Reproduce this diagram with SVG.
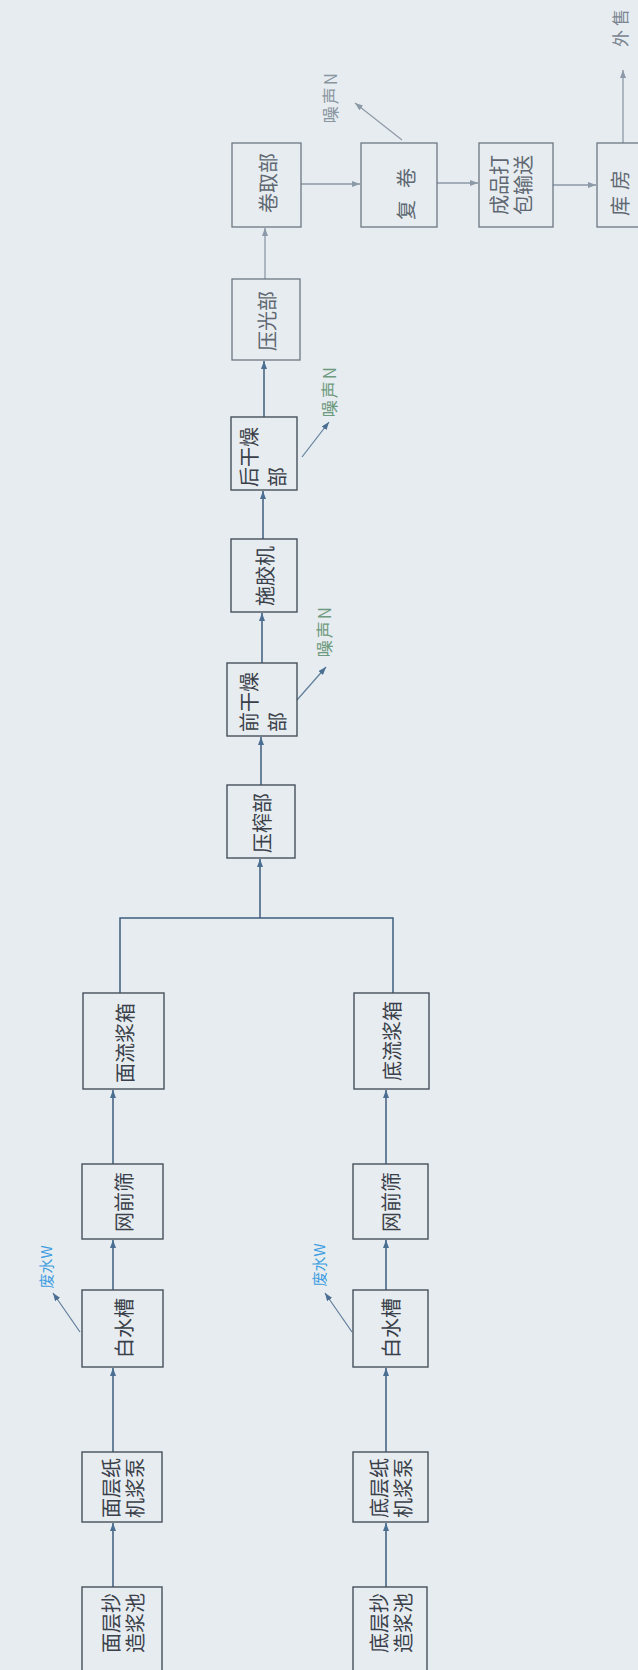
<svg xmlns="http://www.w3.org/2000/svg" width="638" height="1670" viewBox="0 0 638 1670">
  <style>
    .bg { fill: #e7ecf1; }
    .box { fill: none; stroke: #46505a; stroke-width: 1.4; }
    .box-lt { fill: none; stroke: #6c7782; stroke-width: 1.3; }
    .lbl { font-family: "Noto Sans CJK SC", "Noto Sans", sans-serif; font-size: 20px; fill: #3a4049; text-anchor: middle; dominant-baseline: central; }
    .lbl-lt { fill: #5f6872; }
    .start { text-anchor: start; }
    .noise { font-family: "Noto Sans CJK SC", "Noto Sans", sans-serif; font-size: 17px; letter-spacing: 2px; fill: #6e9a7e; text-anchor: middle; dominant-baseline: central; }
    .noise-gray { fill: #8a96a0; }
    .water { font-family: "Noto Sans CJK SC", "Noto Sans", sans-serif; font-size: 15px; fill: #3d9de0; text-anchor: middle; dominant-baseline: central; }
    .out { font-family: "Noto Sans CJK SC", "Noto Sans", sans-serif; font-size: 17px; fill: #7a8590; text-anchor: middle; dominant-baseline: central; letter-spacing: 4px; }
    .flow { fill: none; stroke: #3e5d7d; stroke-width: 1.5; }
    .flow-lt { fill: none; stroke: #8c99a6; stroke-width: 1.3; }
    .side { fill: none; stroke: #5f7d9a; stroke-width: 1.2; }
    .side-lt { fill: none; stroke: #8f9aa5; stroke-width: 1.2; }
  </style>
  <defs>
    <marker id="ah" viewBox="0 0 8 6" refX="8" refY="3" markerWidth="8" markerHeight="6" markerUnits="userSpaceOnUse" orient="auto">
      <path d="M0,0 L8,3 L0,6 z" fill="#4a6f92"/>
    </marker>
    <marker id="ah-lt" viewBox="0 0 8 6" refX="8" refY="3" markerWidth="8" markerHeight="6" markerUnits="userSpaceOnUse" orient="auto">
      <path d="M0,0 L8,3 L0,6 z" fill="#8c99a6"/>
    </marker>
  </defs>

  <rect class="bg" x="0" y="0" width="638" height="1670"/>

  <!-- connectors -->
  <g id="connectors">
    <!-- top (face) layer -->
    <path class="flow" d="M113,1587 V1523" marker-end="url(#ah)"/>
    <path class="flow" d="M113,1452 V1368" marker-end="url(#ah)"/>
    <path class="flow" d="M113,1290 V1240" marker-end="url(#ah)"/>
    <path class="flow" d="M113,1164 V1090" marker-end="url(#ah)"/>
    <!-- bottom layer -->
    <path class="flow" d="M386,1587 V1523" marker-end="url(#ah)"/>
    <path class="flow" d="M386,1452 V1368" marker-end="url(#ah)"/>
    <path class="flow" d="M386,1290 V1240" marker-end="url(#ah)"/>
    <path class="flow" d="M386,1164 V1090" marker-end="url(#ah)"/>
    <!-- merge into press section -->
    <path class="flow" d="M120,993 V918 H393 V993"/>
    <path class="flow" d="M260,918 V859" marker-end="url(#ah)"/>
    <!-- main line -->
    <path class="flow" d="M261,785 V737" marker-end="url(#ah)"/>
    <path class="flow" d="M262,663 V613" marker-end="url(#ah)"/>
    <path class="flow" d="M263,539 V491" marker-end="url(#ah)"/>
    <path class="flow" d="M264,417 V361" marker-end="url(#ah)"/>
    <path class="flow-lt" d="M265,279 V228" marker-end="url(#ah-lt)"/>
    <!-- finishing row -->
    <path class="flow-lt" d="M301,184 H360" marker-end="url(#ah-lt)"/>
    <path class="flow-lt" d="M437,183 H478" marker-end="url(#ah-lt)"/>
    <path class="flow-lt" d="M553,185 H596" marker-end="url(#ah-lt)"/>
    <path class="flow-lt" d="M623,143 V70" marker-end="url(#ah-lt)"/>
    <!-- emissions -->
    <path class="side" d="M80,1332 L53,1293" marker-end="url(#ah)"/>
    <path class="side" d="M352,1332 L325,1293" marker-end="url(#ah)"/>
    <path class="side" d="M297,700 L326,667" marker-end="url(#ah)"/>
    <path class="side" d="M302,457 L329,422" marker-end="url(#ah)"/>
    <path class="side-lt" d="M402,140 L355,103" marker-end="url(#ah-lt)"/>
  </g>

  <!-- face layer column -->
  <g id="face-pool">
    <rect class="box" x="82" y="1587" width="80" height="95"/>
    <text class="lbl" transform="translate(122,1623) rotate(-90)"><tspan x="0" y="-12">面层抄</tspan><tspan x="0" y="12">造浆池</tspan></text>
  </g>
  <g id="face-pump">
    <rect class="box" x="82" y="1452" width="80" height="70"/>
    <text class="lbl" transform="translate(122,1488) rotate(-90)"><tspan x="0" y="-12">面层纸</tspan><tspan x="0" y="12">机浆泵</tspan></text>
  </g>
  <g id="face-whitewater">
    <rect class="box" x="82" y="1290" width="81" height="77"/>
    <text class="lbl" transform="translate(123,1328) rotate(-90)">白水槽</text>
  </g>
  <g id="face-screen">
    <rect class="box" x="82" y="1164" width="81" height="75"/>
    <text class="lbl" transform="translate(123,1202) rotate(-90)">网前筛</text>
  </g>
  <g id="face-headbox">
    <rect class="box" x="83" y="993" width="81" height="96"/>
    <text class="lbl" transform="translate(124,1043) rotate(-90)">面流浆箱</text>
  </g>

  <!-- bottom layer column -->
  <g id="base-pool">
    <rect class="box" x="353" y="1587" width="74" height="95"/>
    <text class="lbl" transform="translate(390,1623) rotate(-90)"><tspan x="0" y="-12">底层抄</tspan><tspan x="0" y="12">造浆池</tspan></text>
  </g>
  <g id="base-pump">
    <rect class="box" x="353" y="1452" width="75" height="70"/>
    <text class="lbl" transform="translate(390,1488) rotate(-90)"><tspan x="0" y="-12">底层纸</tspan><tspan x="0" y="12">机浆泵</tspan></text>
  </g>
  <g id="base-whitewater">
    <rect class="box" x="353" y="1290" width="75" height="77"/>
    <text class="lbl" transform="translate(390,1328) rotate(-90)">白水槽</text>
  </g>
  <g id="base-screen">
    <rect class="box" x="353" y="1164" width="75" height="75"/>
    <text class="lbl" transform="translate(390,1202) rotate(-90)">网前筛</text>
  </g>
  <g id="base-headbox">
    <rect class="box" x="354" y="993" width="75" height="96"/>
    <text class="lbl" transform="translate(391,1041) rotate(-90)">底流浆箱</text>
  </g>

  <!-- waste water outlets -->
  <g id="face-wastewater">
    <text class="water" transform="translate(45,1267) rotate(-90)">废水W</text>
  </g>
  <g id="base-wastewater">
    <text class="water" transform="translate(318,1265) rotate(-90)">废水W</text>
  </g>

  <!-- main machine line -->
  <g id="press">
    <rect class="box" x="227" y="785" width="68" height="73"/>
    <text class="lbl" transform="translate(261,823) rotate(-90)">压榨部</text>
  </g>
  <g id="pre-dryer">
    <rect class="box" x="227" y="663" width="70" height="73"/>
    <text class="lbl start" transform="translate(262,732) rotate(-90)"><tspan x="0" y="-14">前干燥</tspan><tspan x="0" y="14">部</tspan></text>
  </g>
  <g id="sizer">
    <rect class="box" x="231" y="539" width="66" height="73"/>
    <text class="lbl" transform="translate(264,576) rotate(-90)">施胶机</text>
  </g>
  <g id="after-dryer">
    <rect class="box" x="231" y="417" width="66" height="73"/>
    <text class="lbl start" transform="translate(262,487) rotate(-90)"><tspan x="0" y="-14">后干燥</tspan><tspan x="0" y="14">部</tspan></text>
  </g>
  <g id="calender">
    <rect class="box-lt" x="232" y="279" width="68" height="81"/>
    <text class="lbl lbl-lt" transform="translate(266,321) rotate(-90)">压光部</text>
  </g>
  <g id="reel">
    <rect class="box-lt" x="232" y="143" width="69" height="84"/>
    <text class="lbl lbl-lt" transform="translate(267,183) rotate(-90)">卷取部</text>
  </g>

  <!-- finishing -->
  <g id="rewinder">
    <rect class="box-lt" x="361" y="143" width="76" height="84"/>
    <text class="lbl lbl-lt" style="letter-spacing:12px" transform="translate(405,188) rotate(-90)">复卷</text>
  </g>
  <g id="packing">
    <rect class="box-lt" x="479" y="143" width="74" height="84"/>
    <text class="lbl lbl-lt" transform="translate(510,185) rotate(-90)"><tspan x="0" y="-12">成品打</tspan><tspan x="0" y="12">包输送</tspan></text>
  </g>
  <g id="warehouse">
    <rect class="box-lt" x="597" y="143" width="60" height="84"/>
    <text class="lbl lbl-lt" style="letter-spacing:6px" transform="translate(619,190) rotate(-90)">库房</text>
  </g>
  <g id="sale">
    <text class="out" transform="translate(619,26) rotate(-90)">外售</text>
  </g>

  <!-- noise emissions -->
  <g id="noise-pre-dryer">
    <text class="noise" transform="translate(323,631) rotate(-90)">噪声N</text>
  </g>
  <g id="noise-after-dryer">
    <text class="noise" transform="translate(328,391) rotate(-90)">噪声N</text>
  </g>
  <g id="noise-rewinder">
    <text class="noise noise-gray" transform="translate(329,97) rotate(-90)">噪声N</text>
  </g>
</svg>
